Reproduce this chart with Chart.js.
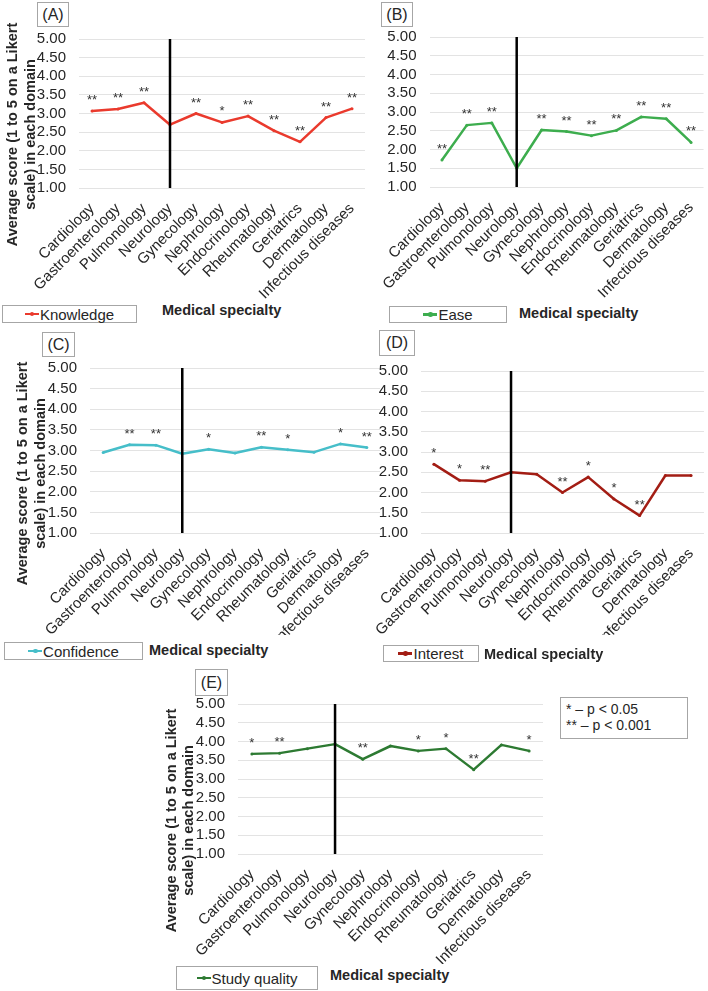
<!DOCTYPE html>
<html>
<head>
<meta charset="utf-8">
<script src="https://cdn.jsdelivr.net/npm/chart.js@4.4.1/dist/chart.umd.min.js"></script>
<style>
  body { margin: 0; background: #fff; }
  #page { position: relative; width: 708px; height: 991px; overflow: hidden;
          font-family: 'Liberation Sans', Arial, sans-serif; color: #262626; }
  canvas { position: absolute; }
  .tag { position: absolute; border: 1px solid #a6a6a6; box-sizing: border-box;
         font-size: 16px; display: flex; align-items: center; justify-content: center; background: #fff; }
  .ytitle { position: absolute; width: 280px; height: 17px; line-height: 17px; font-size: 14.5px;
            font-weight: bold; text-align: center; transform: rotate(-90deg); white-space: nowrap; }
  .xtitle { position: absolute; font-size: 14.5px; font-weight: bold; white-space: nowrap;
            transform: translateY(-50%); }
  .legend { position: absolute; border: 1px solid #a6a6a6; box-sizing: border-box; display: flex;
            align-items: center; justify-content: center; font-size: 15px; background: #fff; }
  .legend i { display: inline-block; width: 14px; height: 2.5px; margin-right: 1px; position: relative; }
  .legend i b { position: absolute; left: 5px; top: -1px; width: 4.5px; height: 4.5px; border-radius: 50%; }
  .pbox { position: absolute; border: 1px solid #a6a6a6; box-sizing: border-box; font-size: 14px;
          line-height: 16px; padding: 3px 0 0 5px; white-space: nowrap; }
</style>
</head>
<body>
<div id="page"></div>
<script>
// data
const categories = ['Cardiology', 'Gastroenterology', 'Pulmonology', 'Neurology', 'Gynecology',
  'Nephrology', 'Endocrinology', 'Rheumatology', 'Geriatrics', 'Dermatology', 'Infectious diseases'];
const dividerCategory = 'Neurology';
const yTicks = [1, 1.5, 2, 2.5, 3, 3.5, 4, 4.5, 5];

const knowledge    = [3.07, 3.12, 3.29, 2.70, 3.00, 2.76, 2.93, 2.54, 2.24, 2.89, 3.13];
const knowledgeSig = ['**', '**', '**', '', '**', '*', '**', '**', '**', '**', '**'];
const ease         = [1.72, 2.65, 2.71, 1.50, 2.52, 2.48, 2.37, 2.51, 2.87, 2.82, 2.19];
const easeSig      = ['**', '**', '**', '', '**', '**', '**', '**', '**', '**', '**'];
const confidence    = [2.95, 3.14, 3.13, 2.92, 3.03, 2.94, 3.08, 3.02, 2.96, 3.16, 3.07];
const confidenceSig = ['', '**', '**', '', '*', '', '**', '*', '', '*', '**'];
const interest     = [2.70, 2.30, 2.28, 2.50, 2.45, 2.00, 2.38, 1.84, 1.43, 2.42, 2.42];
const interestSig  = ['*', '*', '**', '', '', '**', '*', '*', '**', '', ''];
const studyQuality    = [3.67, 3.69, 3.81, 3.93, 3.53, 3.88, 3.75, 3.81, 3.25, 3.91, 3.75];
const studyQualitySig = ['*', '**', '', '', '**', '', '*', '*', '**', '', '*'];

const yTitle = ['Average score (1 to 5 on a Likert', 'scale) in each domain'];
const xTitle = 'Medical specialty';
const pLegend = ['* \u2013 p < 0.05', '** \u2013 p < 0.001'];

const FONT = "'Liberation Sans', Arial, sans-serif";
const page = document.getElementById('page');

// layout of the five panels (page pixels)
const panels = [
  { tag: '(A)', label: 'Knowledge', data: knowledge, sig: knowledgeSig, color: '#ea3a2d',
    canvas: [0, 0, 372, 300], plot: [79, 39, 365, 188],
    tagBox: [37, 2, 32, 25], legend: [2, 305, 135, 18], xt: [162, 310], yt: [12, 30, 134.5] },
  { tag: '(B)', label: 'Ease', data: ease, sig: easeSig, color: '#3dad4e',
    canvas: [372, 0, 336, 300], plot: [429.5, 37, 705.5, 187],
    tagBox: [381, 2, 32, 25], legend: [389, 306, 118, 17], xt: [519, 313], yt: null },
  { tag: '(C)', label: 'Confidence', data: confidence, sig: confidenceSig, color: '#46bec9',
    canvas: [0, 330, 384, 305], plot: [90, 368, 380, 533],
    tagBox: [42, 332, 33, 25], legend: [4, 642, 139, 18], xt: [149, 650], yt: [22, 40, 473] },
  { tag: '(D)', label: 'Interest', data: interest, sig: interestSig, color: '#a31d14',
    canvas: [372, 330, 336, 305], plot: [421, 371, 707, 533],
    tagBox: [379, 330, 36, 26], legend: [383, 645, 96, 17], xt: [484, 654], yt: null },
  { tag: '(E)', label: 'Study quality', data: studyQuality, sig: studyQualitySig, color: '#2d7a32',
    canvas: [140, 664, 410, 300], plot: [238, 704, 543, 854],
    tagBox: [195, 669, 33, 27], legend: [176, 966, 142, 24], xt: [330, 975], yt: [171, 188, 820] }
];

// vertical divider + significance stars
const markers = {
  id: 'markers',
  afterDatasetsDraw(chart, args, opts) {
    const { ctx, scales: { x, y } } = chart;
    const xd = x.getPixelForValue(categories.indexOf(dividerCategory));
    ctx.save();
    ctx.strokeStyle = '#000';
    ctx.lineWidth = 2.5;
    ctx.beginPath();
    ctx.moveTo(xd, y.getPixelForValue(5));
    ctx.lineTo(xd, y.getPixelForValue(1));
    ctx.stroke();
    const meta = chart.getDatasetMeta(0);
    ctx.fillStyle = '#333';
    ctx.font = '13px ' + FONT;
    ctx.textAlign = 'center';
    ctx.textBaseline = 'alphabetic';
    opts.sig.forEach((s, i) => {
      if (s) ctx.fillText(s, meta.data[i].x, meta.data[i].y - 7);
    });
    ctx.restore();
  }
};

function addDiv(cls, html, x, y, w, h) {
  const d = document.createElement('div');
  d.className = cls;
  d.innerHTML = html;
  d.style.left = x + 'px';
  d.style.top = y + 'px';
  if (w) d.style.width = w + 'px';
  if (h) d.style.height = h + 'px';
  page.appendChild(d);
  return d;
}

panels.forEach(p => {
  const [cx, cy, cw, ch] = p.canvas;
  const l = p.plot[0] - cx, t = p.plot[1] - cy, r = p.plot[2] - cx, b = p.plot[3] - cy;
  const cv = document.createElement('canvas');
  cv.width = cw; cv.height = ch;
  cv.style.left = cx + 'px'; cv.style.top = cy + 'px';
  page.appendChild(cv);

  new Chart(cv.getContext('2d'), {
    type: 'line',
    data: {
      labels: categories,
      datasets: [{
        label: p.label,
        data: p.data,
        borderColor: p.color,
        backgroundColor: p.color,
        borderWidth: 2.5,
        borderJoinStyle: 'round',
        pointRadius: 1.5,
        pointBorderWidth: 0,
        tension: 0
      }]
    },
    options: {
      responsive: false,
      animation: false,
      devicePixelRatio: 1,
      layout: { padding: { left: 0, top: t, right: cw - r, bottom: 0 } },
      plugins: {
        legend: { display: false },
        tooltip: { enabled: false },
        markers: { sig: p.sig }
      },
      scales: {
        x: {
          offset: true,
          grid: { display: false },
          border: { display: false },
          ticks: { autoSkip: false, minRotation: 45, maxRotation: 45, padding: 4,
                   color: '#262626', font: { family: FONT, size: 15 } },
          afterFit: s => { s.height = ch - b; }
        },
        y: {
          min: yTicks[0],
          max: yTicks[yTicks.length - 1],
          afterBuildTicks: s => { s.ticks = yTicks.map(v => ({ value: v })); },
          grid: { color: '#e3e3e3', drawTicks: false },
          border: { display: false },
          ticks: { autoSkip: false, padding: 13, color: '#262626', font: { family: FONT, size: 15 },
                   callback: v => Number(v).toFixed(2) },
          afterFit: s => { s.width = l; }
        }
      }
    },
    plugins: [markers]
  });

  addDiv('tag', p.tag, ...p.tagBox);
  addDiv('legend', '<i style="background:' + p.color + '"><b style="background:' + p.color + '"></b></i>' + p.label,
         ...p.legend);
  addDiv('xtitle', xTitle, p.xt[0], p.xt[1]);
  if (p.yt) {
    addDiv('ytitle', yTitle[0], p.yt[0] - 140, p.yt[2] - 8.5);
    addDiv('ytitle', yTitle[1], p.yt[1] - 140, p.yt[2] - 8.5);
  }
});

addDiv('pbox', pLegend.join('<br>'), 560, 697, 128, 42);
</script>
</body>
</html>
